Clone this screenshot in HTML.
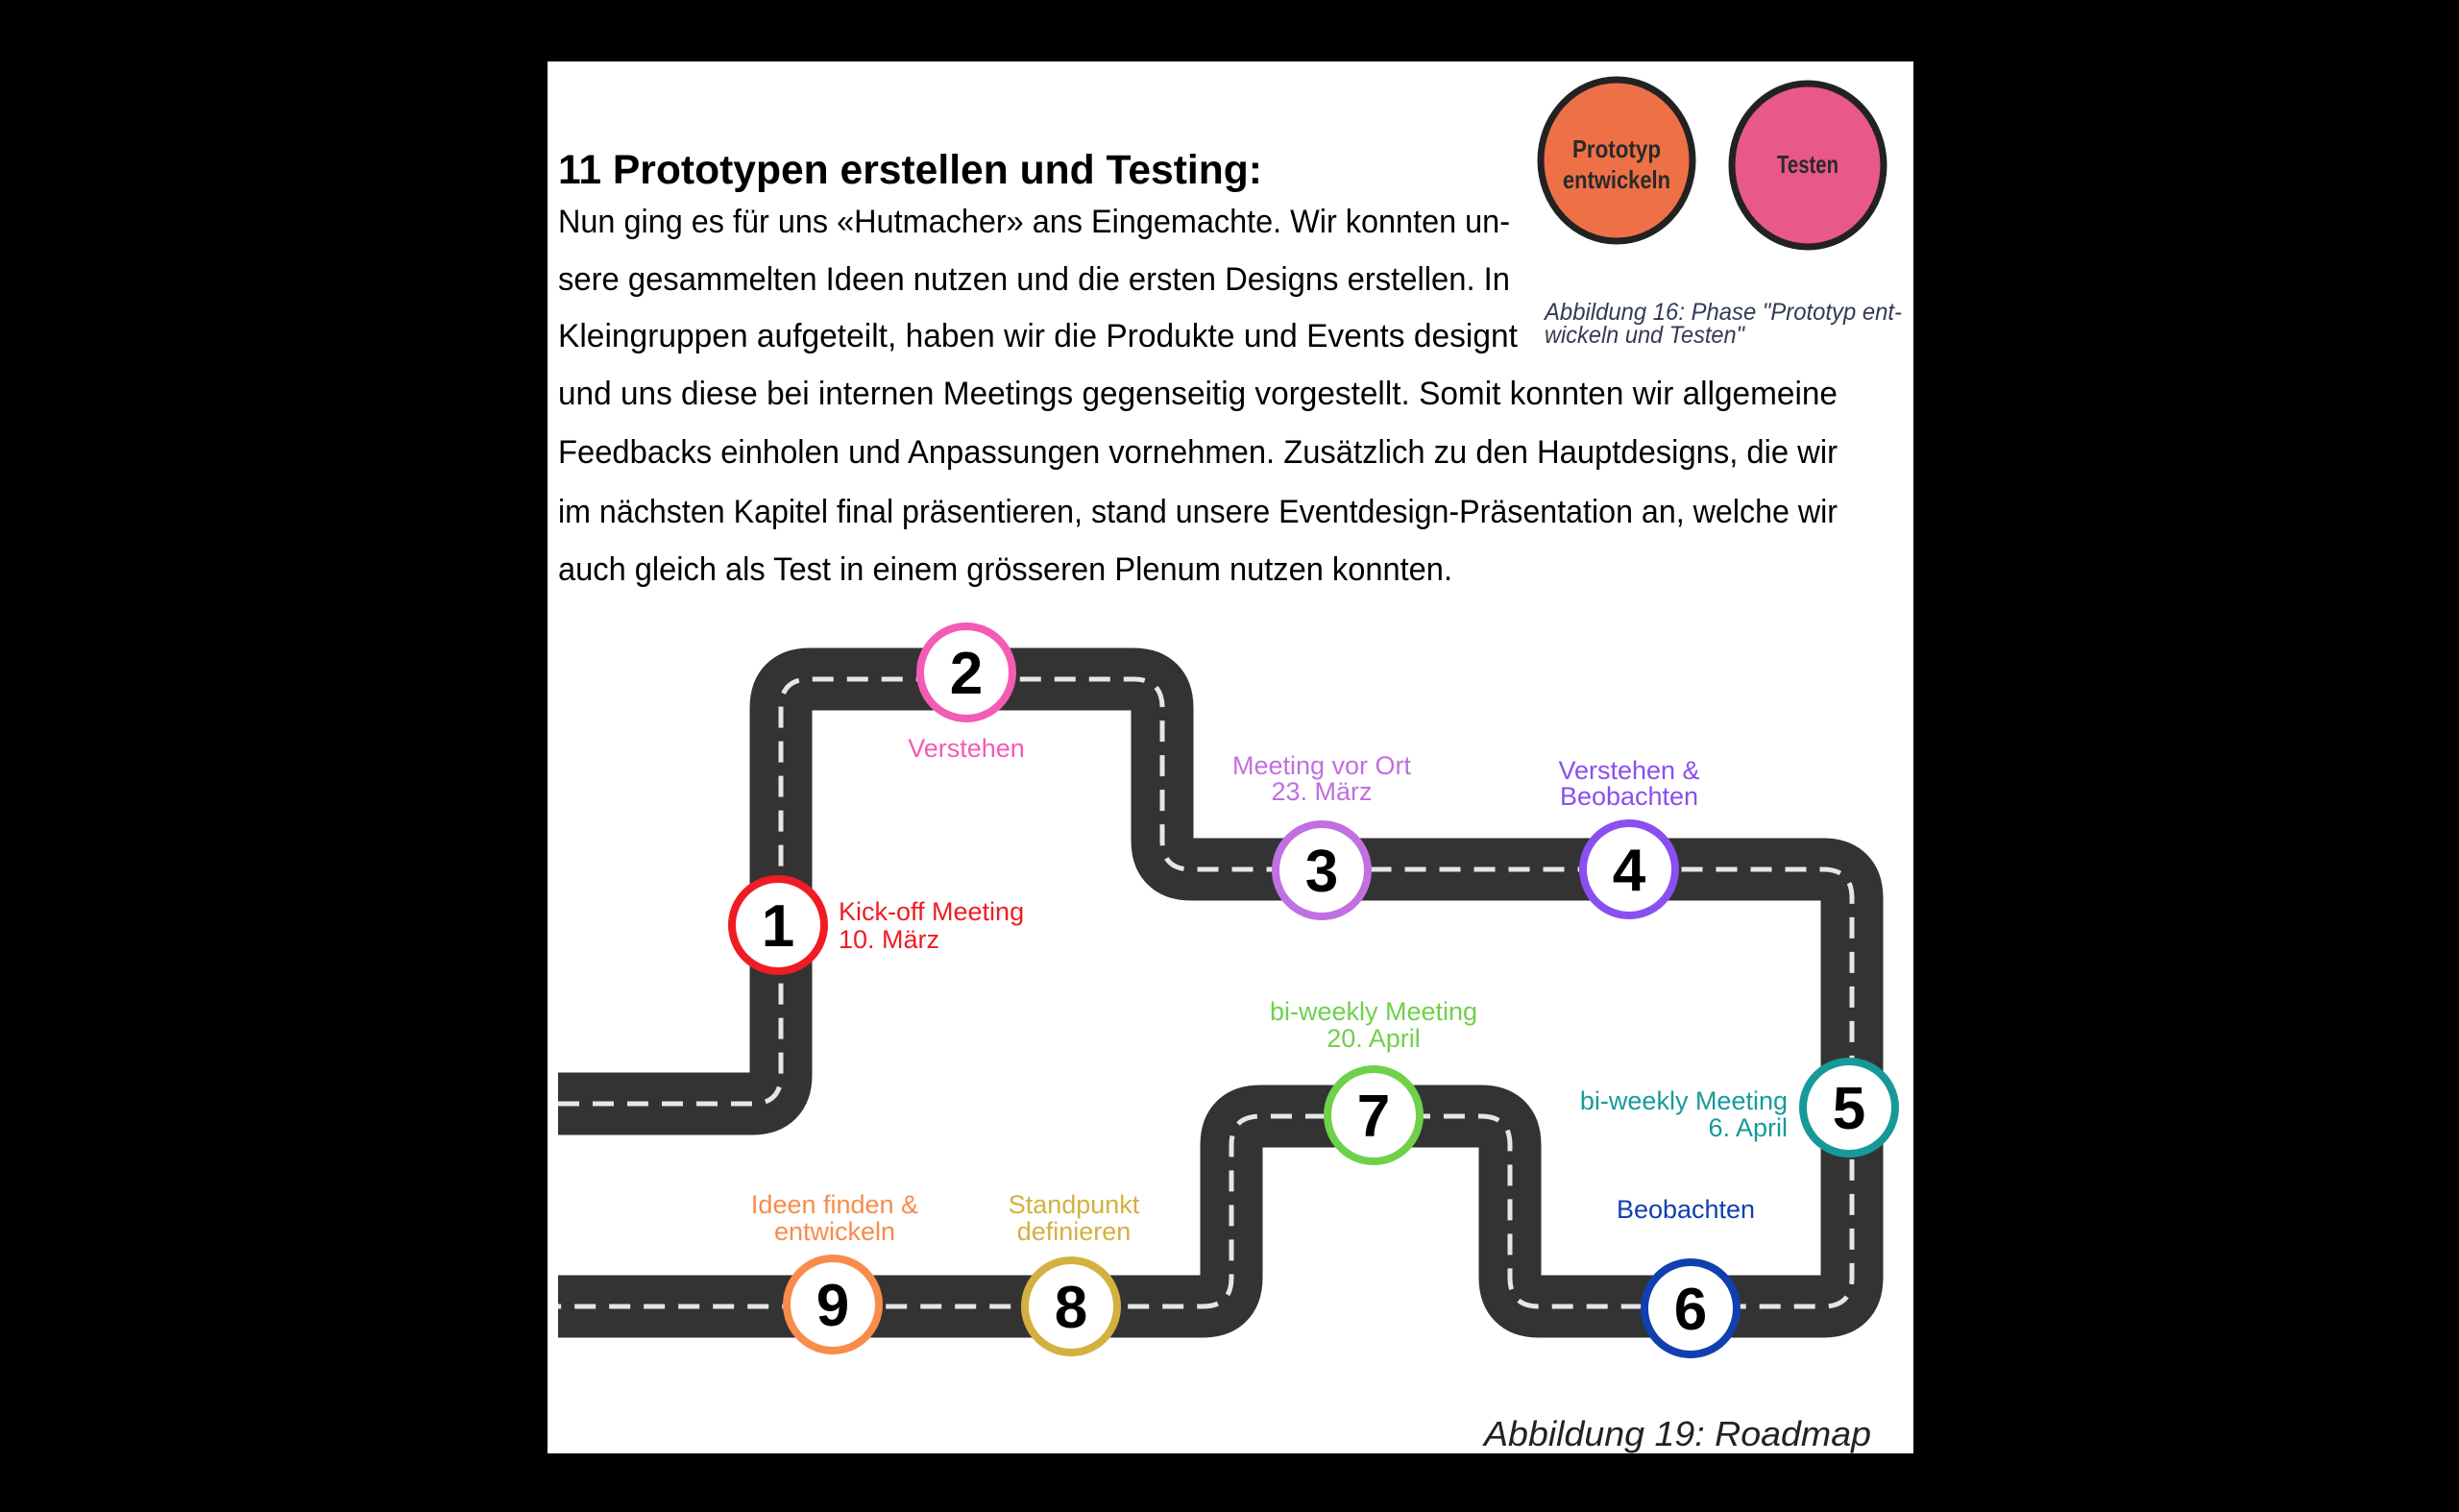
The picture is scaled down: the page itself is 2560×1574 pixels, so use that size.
<!DOCTYPE html>
<html><head><meta charset="utf-8"><style>
html,body{margin:0;padding:0;background:#000;}
svg{display:block;}
</style></head><body>
<svg width="2560" height="1574" viewBox="0 0 2560 1574" xmlns="http://www.w3.org/2000/svg" font-family="Liberation Sans, sans-serif">
<rect x="0" y="0" width="2560" height="1574" fill="#000"/>
<rect x="570" y="64" width="1422" height="1449" fill="#fff"/>

<text x="581" y="191" font-size="43" font-weight="bold" fill="#000" textLength="733" lengthAdjust="spacingAndGlyphs">11  Prototypen erstellen und Testing:</text>
<g font-size="34" fill="#000">
<text x="581" y="242" textLength="991" lengthAdjust="spacingAndGlyphs">Nun ging es für uns «Hutmacher» ans Eingemachte. Wir konnten un-</text>
<text x="581" y="302" textLength="991" lengthAdjust="spacingAndGlyphs">sere gesammelten Ideen nutzen und die ersten Designs erstellen. In</text>
<text x="581" y="361" textLength="999" lengthAdjust="spacingAndGlyphs">Kleingruppen aufgeteilt, haben wir die Produkte und Events designt</text>
<text x="581" y="421" textLength="1332" lengthAdjust="spacingAndGlyphs">und uns diese bei internen Meetings gegenseitig vorgestellt. Somit konnten wir allgemeine</text>
<text x="581" y="482" textLength="1332" lengthAdjust="spacingAndGlyphs">Feedbacks einholen und Anpassungen vornehmen. Zusätzlich zu den Hauptdesigns, die wir</text>
<text x="581" y="544" textLength="1332" lengthAdjust="spacingAndGlyphs">im nächsten Kapitel final präsentieren, stand unsere Eventdesign-Präsentation an, welche wir</text>
<text x="581" y="604" textLength="931" lengthAdjust="spacingAndGlyphs">auch gleich als Test in einem grösseren Plenum nutzen konnten.</text>
</g>

<ellipse cx="1683" cy="167" rx="79" ry="84" fill="#ee7047" stroke="#222" stroke-width="7"/>
<ellipse cx="1882" cy="172" rx="79" ry="85" fill="#e8588a" stroke="#222" stroke-width="7"/>
<g font-size="26" font-weight="bold" fill="#2a2a2a" text-anchor="middle">
<text x="1683" y="164" textLength="92" lengthAdjust="spacingAndGlyphs">Prototyp</text>
<text x="1683" y="196" textLength="112" lengthAdjust="spacingAndGlyphs">entwickeln</text>
<text x="1882" y="180" textLength="64" lengthAdjust="spacingAndGlyphs">Testen</text>
</g>
<g font-size="25" font-style="italic" fill="#333a55">
<text x="1608" y="333" textLength="372" lengthAdjust="spacingAndGlyphs">Abbildung 16: Phase "Prototyp ent-</text>
<text x="1608" y="357" textLength="208" lengthAdjust="spacingAndGlyphs">wickeln und Testen"</text>
</g>

<path id="road" d="M581 1149 H783 Q813 1149 813 1119 V737 Q813 707 843 707 H1180 Q1210 707 1210 737 V875 Q1210 905 1240 905 H1898 Q1928 905 1928 935 V1330 Q1928 1360 1898 1360 H1602 Q1572 1360 1572 1330 V1192 Q1572 1162 1542 1162 H1312 Q1282 1162 1282 1192 V1330 Q1282 1360 1252 1360 H581" fill="none" stroke="#333" stroke-width="65" stroke-linejoin="round"/>
<path d="M581 1149 H783 Q813 1149 813 1119 V737 Q813 707 843 707 H1180 Q1210 707 1210 737 V875 Q1210 905 1240 905 H1898 Q1928 905 1928 935 V1330 Q1928 1360 1898 1360 H1602 Q1572 1360 1572 1330 V1192 Q1572 1162 1542 1162 H1312 Q1282 1162 1282 1192 V1330 Q1282 1360 1252 1360 H581" fill="none" stroke="#e6e6e6" stroke-width="5" stroke-dasharray="22 14"/>

<g stroke-width="8" fill="#fff">
<circle cx="810" cy="963" r="48" stroke="#f01c24"/>
<circle cx="1006" cy="700" r="48" stroke="#f45bb5"/>
<circle cx="1376" cy="906" r="48" stroke="#c070e0"/>
<circle cx="1696" cy="905" r="48" stroke="#8a4ff0"/>
<circle cx="1925" cy="1153" r="48" stroke="#17999a"/>
<circle cx="1760" cy="1362" r="48" stroke="#1040b0"/>
<circle cx="1430" cy="1161" r="48" stroke="#6fd04a"/>
<circle cx="1115" cy="1360" r="48" stroke="#d4b040"/>
<circle cx="867" cy="1358" r="48" stroke="#f88c4a"/>
</g>
<g font-size="62" font-weight="bold" fill="#000" text-anchor="middle">
<text x="810" y="985">1</text>
<text x="1006" y="722">2</text>
<text x="1376" y="928">3</text>
<text x="1696" y="927">4</text>
<text x="1925" y="1175">5</text>
<text x="1760" y="1384">6</text>
<text x="1430" y="1183">7</text>
<text x="1115" y="1382">8</text>
<text x="867" y="1380">9</text>
</g>

<g font-size="27" text-anchor="middle">
<text x="1006" y="788" fill="#f45bb5">Verstehen</text>
<text x="1376" y="806" fill="#c070e0">Meeting vor Ort</text>
<text x="1376" y="833" fill="#c070e0">23. März</text>
<text x="1696" y="811" fill="#8a4ff0">Verstehen &amp;</text>
<text x="1696" y="838" fill="#8a4ff0">Beobachten</text>
<text x="1430" y="1062" fill="#6fd04a">bi-weekly Meeting</text>
<text x="1430" y="1090" fill="#6fd04a">20. April</text>
<text x="1755" y="1268" fill="#1040b0">Beobachten</text>
<text x="869" y="1263" fill="#f88c4a">Ideen finden &amp;</text>
<text x="869" y="1291" fill="#f88c4a">entwickeln</text>
<text x="1118" y="1263" fill="#d4b040">Standpunkt</text>
<text x="1118" y="1291" fill="#d4b040">definieren</text>
</g>
<g font-size="27">
<text x="873" y="958" fill="#f01c24">Kick-off Meeting</text>
<text x="873" y="987" fill="#f01c24">10. März</text>
<text x="1861" y="1155" fill="#17999a" text-anchor="end">bi-weekly Meeting</text>
<text x="1861" y="1183" fill="#17999a" text-anchor="end">6. April</text>
</g>

<text x="1545" y="1505" font-size="36" font-style="italic" fill="#222" textLength="403" lengthAdjust="spacingAndGlyphs">Abbildung 19: Roadmap</text>
</svg>
</body></html>
